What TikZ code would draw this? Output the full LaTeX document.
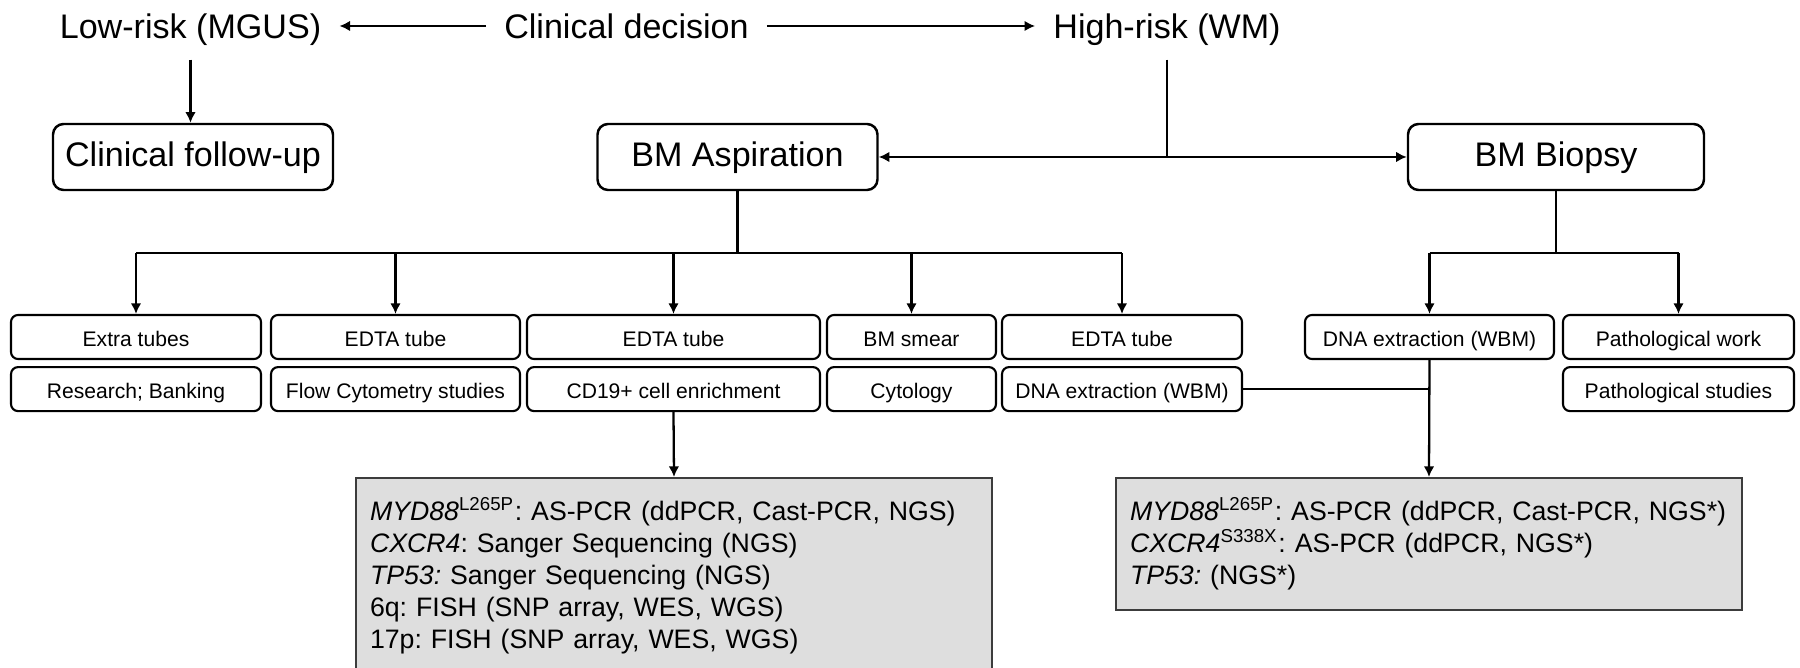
\documentclass[tikz,border=0pt]{standalone}
\usepackage{fontspec}
\setmainfont{Liberation Sans}
\usetikzlibrary{positioning,arrows.meta}
\frenchspacing
\definecolor{resultgray}{RGB}{222,222,222}
\definecolor{resultline}{RGB}{60,60,60}
\tikzset{
titlenode/.style = {font=\fontsize{9.7}{11.6}\selectfont, inner xsep=5pt, inner ysep=5pt, text height=0.8em, text depth=0.08em},
stagebox/.style = {draw, rounded corners=3pt, line width=0.7pt, minimum width=#1, minimum height=0.66cm, font=\fontsize{9.7}{11.6}\selectfont, text height=0.75em, text depth=0.2em},
stagebox/.default = 2.8cm, % width of the big boxes
tubebox/.style = {draw, rounded corners=2pt, line width=0.6pt, minimum width=#1, minimum height=0.44cm, inner sep=1pt, font=\fontsize{6}{7.2}\selectfont, text height=0.75em, text depth=0.2em},
resultbox/.style = {draw=resultline, fill=resultgray, line width=0.5pt, inner xsep=0.14cm, align=left, anchor=north, font=\fontsize{7.6}{9.1}\selectfont},
link/.style = {line width=0.65pt},
arr/.style = {link, -{Latex[length=3pt,width=3pt]}},
arrboth/.style = {link, {Latex[length=3pt,width=3pt]}-{Latex[length=3pt,width=3pt]}}
}

\begin{document}
\begin{tikzpicture}
\useasboundingbox (0,0) rectangle (18,-6.68);

% decision row
\node [titlenode] (lowrisk) at (1.905,-0.26) {Low-risk (MGUS)};
\node [titlenode] (decision) at (6.265,-0.26) {Clinical decision};
\node [titlenode] (highrisk) at (11.67,-0.26) {High-risk (WM)};
\draw [arr] (decision.west) -- (lowrisk.east);
\draw [arr] (decision.east) -- (highrisk.west);

\node [stagebox] (followup) at (1.93,-1.57) {Clinical follow-up};
\node [stagebox] (aspiration) at (7.375,-1.57) {BM Aspiration};
\node [stagebox=2.96cm] (biopsy) at (15.56,-1.57) {BM Biopsy};
\draw [arr] (lowrisk.south) -- (lowrisk.south |- followup.north);
\draw [arrboth] (aspiration.east) -- (biopsy.west);
\draw [link] (highrisk.south) -- (highrisk.south |- aspiration.east);

% samples
\node [tubebox=2.50cm] (tube1) at (1.36,-3.37) {Extra tubes};
\node [tubebox=2.49cm] (tube2) at (3.955,-3.37) {EDTA tube};
\node [tubebox=2.93cm] (tube3) at (6.735,-3.37) {EDTA tube};
\node [tubebox=1.69cm] (tube4) at (9.115,-3.37) {BM smear};
\node [tubebox=2.40cm] (tube5) at (11.22,-3.37) {EDTA tube};
\node [tubebox=2.49cm] (dnab) at (14.295,-3.37) {DNA extraction (WBM)};
\node [tubebox=2.31cm] (patho) at (16.785,-3.37) {Pathological work};

\node [tubebox=2.50cm, below=0.06cm of tube1] (tube1b) {Research; Banking};
\node [tubebox=2.49cm, below=0.06cm of tube2] (tube2b) {Flow Cytometry studies};
\node [tubebox=2.93cm, below=0.06cm of tube3] (tube3b) {CD19+ cell enrichment};
\node [tubebox=1.69cm, below=0.06cm of tube4] (tube4b) {Cytology};
\node [tubebox=2.40cm, below=0.06cm of tube5] (tube5b) {DNA extraction (WBM)};
\node [tubebox=2.31cm, below=0.06cm of patho] (pathob) {Pathological studies};

\path (aspiration.south) ++(0,-0.62) coordinate (aspsplit);
\draw [link] (aspiration.south) -- (aspsplit);
\draw [link] (tube1 |- aspsplit) -- (tube5 |- aspsplit);
\foreach \t in {tube1,tube2,tube3,tube4,tube5}
  \draw [arr] (\t |- aspsplit) -- (\t.north);

\path (biopsy.south) ++(0,-0.62) coordinate (biosplit);
\draw [link] (biopsy.south) -- (biosplit);
\draw [link] (dnab |- biosplit) -- (patho |- biosplit);
\foreach \t in {dnab,patho}
  \draw [arr] (\t |- biosplit) -- (\t.north);

% results
\node [resultbox, text width=6.08cm, minimum height=1.96cm] (aspresult) at (6.74,-4.77)
  {\textit{MYD88}\textsuperscript{L265P}: AS-PCR (ddPCR, Cast-PCR, NGS)\\
   \textit{CXCR4}: Sanger Sequencing (NGS)\\
   \textit{TP53:} Sanger Sequencing (NGS)\\
   6q: FISH (SNP array, WES, WGS)\\
   17p: FISH (SNP array, WES, WGS)};
\node [resultbox, text width=5.98cm, minimum height=1.32cm] (bioresult) at (14.29,-4.77)
  {\textit{MYD88}\textsuperscript{L265P}: AS-PCR (ddPCR, Cast-PCR, NGS*)\\
   \textit{CXCR4}\textsuperscript{S338X}: AS-PCR (ddPCR, NGS*)\\
   \textit{TP53:} (NGS*)};
\draw [arr] (tube3b.south) -- (aspresult.north);
\draw [link] (tube5b.east) -- (tube5b.east -| dnab.south);
\draw [arr] (dnab.south) -- (bioresult.north);
\end{tikzpicture}
\end{document}
